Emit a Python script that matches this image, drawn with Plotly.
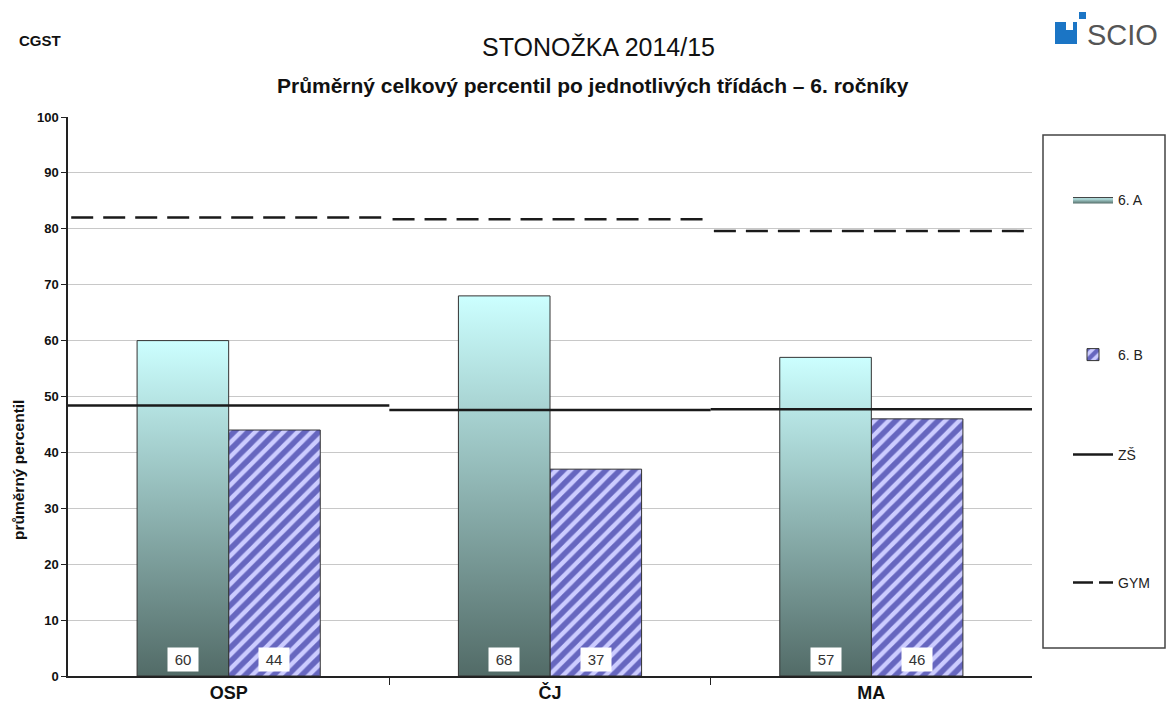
import plotly.graph_objects as go

# data
categories = ["OSP", "ČJ", "MA"]
class_a = [60, 68, 57]          # 6. A
class_b = [44, 37, 46]          # 6. B
zs_avg = [48.4, 47.6, 47.7]     # ZŠ
gym_avg = [82.0, 81.7, 79.6]    # GYM
y_ticks = list(range(0, 101, 10))

FONT = "Liberation Sans, Arial, sans-serif"
W, H = 1169, 704
ML, MR, MT, MB = 68, 137, 117, 28
BAR_W = 0.285


def px(x):
    return (x - ML) / (W - ML - MR)


def py(y):
    return (H - MB - y) / (H - MT - MB)


fig = go.Figure()

# 6. A - gradient bars drawn as filled polygons on the linear category axis
for i, v in enumerate(class_a):
    fig.add_trace(go.Scatter(
        x=[i - BAR_W, i - BAR_W, i, i, i - BAR_W],
        y=[0, v, v, 0, 0],
        mode="lines", fill="toself",
        line=dict(color="#333333", width=1),
        fillgradient=dict(type="vertical", start=0, stop=v,
                          colorscale=[[0, "#526b67"], [1, "#ccffff"]]),
        name="6. A", showlegend=(i == 0), legend="legend", hoverinfo="skip",
    ))

# 6. B - hatched bars
fig.add_trace(go.Bar(
    x=[i + BAR_W / 2 for i in range(len(categories))], y=class_b, width=BAR_W,
    marker=dict(color="#ccccff", line=dict(color="#333333", width=1),
                pattern=dict(shape="/", fgcolor="#000080", bgcolor="#ccccff",
                             size=10, solidity=0.55)),
    name="6. B", legend="legend2",
))

# reference lines spanning each category
zx, zy, gx, gy = [], [], [], []
for i in range(len(categories)):
    zx += [i - 0.5, i + 0.5, None]
    zy += [zs_avg[i], zs_avg[i], None]
    gx += [i - 0.49, i + 0.48, None]
    gy += [gym_avg[i], gym_avg[i], None]

fig.add_trace(go.Scatter(x=zx, y=zy, mode="lines", name="ZŠ",
                         line=dict(color="#1a1a1a", width=2.5), legend="legend3"))
fig.add_trace(go.Scatter(x=gx, y=gy, mode="lines", name="GYM", showlegend=False,
                         line=dict(color="#1a1a1a", width=2.5, dash="22px,10px")))
# legend sample for GYM with a shorter dash, as in the original key
fig.add_trace(go.Scatter(x=[None], y=[None], mode="lines", name="GYM",
                         line=dict(color="#1a1a1a", width=2.5, dash="20px,6px"),
                         legend="legend4"))

# value labels in white boxes
for i in range(len(categories)):
    for xv, v in ((i - BAR_W / 2, class_a[i]), (i + BAR_W / 2, class_b[i])):
        fig.add_annotation(x=xv, y=3, text=str(v), showarrow=False,
                           bgcolor="white", width=28, height=21,
                           font=dict(size=15, color="#333333", family=FONT))

# titles
fig.add_annotation(xref="paper", yref="paper", x=px(598), y=py(47), yanchor="middle",
                   text="STONOŽKA 2014/15", showarrow=False,
                   font=dict(size=25, color="#111111", family=FONT))
fig.add_annotation(xref="paper", yref="paper", x=px(593), y=py(85), yanchor="middle",
                   text="<b>Průměrný celkový percentil po jednotlivých třídách – 6. ročníky</b>",
                   showarrow=False, font=dict(size=21, color="#111111", family=FONT))
fig.add_annotation(xref="paper", yref="paper", x=px(17), y=py(40), xanchor="left",
                   yanchor="middle", text="<b>CGST</b>", showarrow=False,
                   font=dict(size=15, color="#111111", family=FONT))
fig.add_annotation(xref="paper", yref="paper", x=px(18), y=py(470), textangle=-90,
                   xanchor="center", yanchor="middle", text="<b>průměrný percentil</b>",
                   showarrow=False, font=dict(size=15.5, color="#111111", family=FONT))

# SCIO logo
fig.add_annotation(xref="paper", yref="paper", x=px(1085), y=py(35), xanchor="left",
                   yanchor="middle", text="SCIO", showarrow=False,
                   font=dict(size=29, color="#555555", family=FONT))
for x0, y0, x1, y1, c in ((1055, 22, 1077, 44, "#1b75c5"),
                          (1066, 22, 1073, 30, "white"),
                          (1079, 12, 1086, 19, "#1b75c5")):
    fig.add_shape(type="rect", xref="paper", yref="paper", x0=px(x0), x1=px(x1),
                  y0=py(y0), y1=py(y1), fillcolor=c, line=dict(width=0), layer="above")

# legend frame
fig.add_shape(type="rect", xref="paper", yref="paper", x0=px(1043), x1=px(1165),
              y0=py(648), y1=py(135), line=dict(color="#444444", width=1.5))

leg_common = dict(x=px(1068), xanchor="left", yanchor="middle", bgcolor="rgba(0,0,0,0)",
                  itemwidth=40, font=dict(size=14, color="#222222", family=FONT))

fig.update_layout(
    width=W, height=H,
    margin=dict(l=ML, r=MR, t=MT, b=MB, autoexpand=False),
    paper_bgcolor="white", plot_bgcolor="white",
    font=dict(family=FONT, color="#111111"),
    barmode="overlay",
    legend=dict(y=py(200), **leg_common),
    legend2=dict(y=py(355), **leg_common),
    legend3=dict(y=py(455), **leg_common),
    legend4=dict(y=py(583), **leg_common),
    xaxis=dict(range=[-0.5, 2.5], tickvals=list(range(len(categories))),
               ticktext=[f"<b>{c}</b>" for c in categories], ticks="", showgrid=False,
               showline=True, linecolor="#222222", linewidth=1.5, zeroline=False,
               automargin=False,
               tickfont=dict(size=18, color="#111111"),
               minor=dict(tickvals=[0.5, 1.5], ticks="outside", ticklen=7,
                          tickcolor="#222222", showgrid=False)),
    yaxis=dict(range=[0, 100], tickvals=y_ticks,
               ticktext=[f"<b>{t}</b>" for t in y_ticks],
               ticks="outside", ticklen=5, tickcolor="#222222",
               showline=True, linecolor="#222222", linewidth=1.5,
               gridcolor="#c8c8c8", gridwidth=1, zeroline=False, automargin=False,
               tickfont=dict(size=13, color="#111111")),
)

fig.write_html("out.html", config={"displayModeBar": False},
               post_script="document.body.style.margin='0';")
